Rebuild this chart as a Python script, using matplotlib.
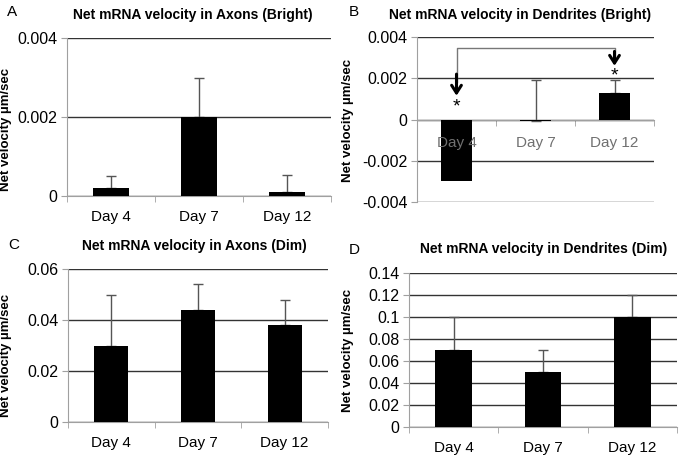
import matplotlib.pyplot as plt
import numpy as np

days = ["Day 4", "Day 7", "Day 12"]

# panel values (net velocity, um/sec) and upper error
axons_bright = [0.0002, 0.002, 0.0001]
axons_bright_err = [0.0003, 0.001, 0.00043]
dend_bright = [-0.003, -0.00005, 0.0013]
dend_bright_err = [0.0, 0.00195, 0.0006]
axons_dim = [0.03, 0.044, 0.038]
axons_dim_err = [0.02, 0.01, 0.01]
dend_dim = [0.07, 0.05, 0.1]
dend_dim_err = [0.03, 0.02, 0.02]

W, H = 684, 462
fig = plt.figure(figsize=(W / 100, H / 100), dpi=100)
plt.rcParams['font.family'] = ['Liberation Sans', 'DejaVu Sans']


def px_axes(l, r, t, b):
    return fig.add_axes([l / W, 1 - b / H, (r - l) / W, (b - t) / H])


def panel(ax, vals, errs, ylim, ticks, labels, bar_w=0.41, zero_axis=False):
    x = np.arange(len(vals))
    ax.bar(x, vals, width=bar_w, color='black', zorder=3)
    vals = np.array(vals)
    errs = np.array(errs)
    m = errs > 0
    ax.errorbar(x[m], vals[m], yerr=[np.zeros(m.sum()), errs[m]], fmt='none',
                ecolor='#555555', elinewidth=1, capsize=3.5, capthick=1, zorder=2)
    ax.set_xlim(-0.5, 2.5)
    ax.set_ylim(*ylim)
    ax.set_yticks(ticks)
    ax.set_yticklabels(labels, fontsize=11.5)
    ax.yaxis.grid(True, color='#333333', lw=1)
    ax.set_axisbelow(True)
    for s in ['top', 'right']:
        ax.spines[s].set_visible(False)
    ax.spines['left'].set_color('#a0a0a0')
    ax.spines['bottom'].set_color('#a0a0a0')
    ax.tick_params(axis='y', length=4, color='#a0a0a0', pad=3)
    ax.set_xticks(x)
    ax.set_xticks([-0.5, 0.5, 1.5, 2.5], minor=True)
    ax.tick_params(axis='x', which='major', length=0, pad=10)
    ax.tick_params(axis='x', which='minor', length=4, color='#a0a0a0')
    if zero_axis:
        ax.spines['bottom'].set_position(('data', 0))
        ax.set_xticklabels([])
        for xi, d in zip(x, days):
            ax.text(xi, -0.00115, d, ha='center', va='center', fontsize=11,
                    color='#707070', zorder=6)
    else:
        ax.set_xticklabels(days, fontsize=11)
    ax.set_ylabel("Net velocity \u00b5m/sec", fontsize=9.5, fontweight='bold')


axA = px_axes(67, 331, 38, 196)
panel(axA, axons_bright, axons_bright_err, (0, 0.004), [0, 0.002, 0.004],
      ["0", "0.002", "0.004"])

axB = px_axes(417, 654, 37, 202)
panel(axB, dend_bright, dend_bright_err, (-0.004, 0.004),
      [-0.004, -0.002, 0, 0.002, 0.004],
      ["-0.004", "-0.002", "0", "0.002", "0.004"], bar_w=0.39, zero_axis=True)

axC = px_axes(68, 328, 269, 422)
panel(axC, axons_dim, axons_dim_err, (0, 0.06), [0, 0.02, 0.04, 0.06],
      ["0", "0.02", "0.04", "0.06"], bar_w=0.39)

axD = px_axes(409, 677, 273, 427)
panel(axD, dend_dim, dend_dim_err, (0, 0.14), np.arange(0, 0.141, 0.02),
      ["0", "0.02", "0.04", "0.06", "0.08", "0.1", "0.12", "0.14"])

axA.yaxis.set_label_coords(12 / W, 1 - 129 / H, transform=fig.transFigure)
axC.yaxis.set_label_coords(12 / W, 1 - 355 / H, transform=fig.transFigure)
axB.yaxis.set_label_coords(354 / W, 1 - 120 / H, transform=fig.transFigure)
axD.yaxis.set_label_coords(354 / W, 1 - 350 / H, transform=fig.transFigure)

# significance bracket in panel B
axB.plot([0, 0, 2, 2], [0.0018, 0.00346, 0.00346, 0.0029], color='#777777', lw=1, zorder=4)
for xx, y0, y1 in [(0, 0.0022, 0.00115), (2, 0.0033, 0.0026)]:
    axB.annotate('', xy=(xx, y1), xytext=(xx, y0),
                 arrowprops=dict(arrowstyle='->,head_width=0.35,head_length=0.55',
                                 color='black', lw=2.2, shrinkA=0, shrinkB=0), zorder=5)
axB.text(0, 0.0006, '*', ha='center', va='center', fontsize=14)
axB.text(2, 0.0021, '*', ha='center', va='center', fontsize=14)

# titles and panel letters
titles = [("A", 12, 12, "Net mRNA velocity in Axons (Bright)", 193, 15),
          ("B", 354, 12, "Net mRNA velocity in Dendrites (Bright)", 520, 15),
          ("C", 14, 245, "Net mRNA velocity in Axons (Dim)", 194, 246),
          ("D", 354, 250, "Net mRNA velocity in Dendrites (Dim)", 544, 249)]
for letter, lx, ly, title, tx, ty in titles:
    fig.text(lx / W, 1 - ly / H, letter, fontsize=11, ha='center', va='center')
    fig.text(tx / W, 1 - ty / H, title, fontsize=10, fontweight='bold',
             ha='center', va='center')

fig.savefig("out.png", dpi=100)
